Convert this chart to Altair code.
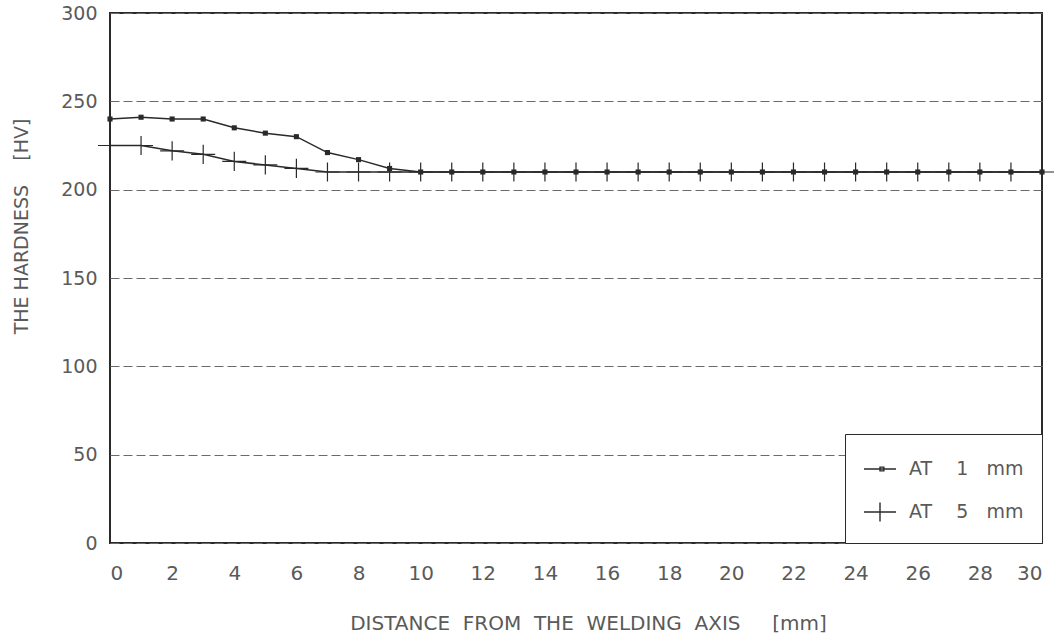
import altair as alt
import pandas as pd

# ---- data ----
distance = list(range(0, 31))
at_1mm = [240, 241, 240, 240, 235, 232, 230, 221, 217, 212,
          210, 210, 210, 210, 210, 210, 210, 210, 210, 210,
          210, 210, 210, 210, 210, 210, 210, 210, 210, 210, 210]
at_5mm = [225, 225, 222, 220, 216, 214, 212, 210, 210, 210,
          210, 210, 210, 210, 210, 210, 210, 210, 210, 210,
          210, 210, 210, 210, 210, 210, 210, 210, 210, 210, 210]
series_names = ["AT 1 mm", "AT 5 mm"]
x_ticks = list(range(0, 31, 2))
y_ticks = [0, 50, 100, 150, 200, 250, 300]

rows = []
for name, vals in zip(series_names, [at_1mm, at_5mm]):
    for d, v in zip(distance, vals):
        rows.append({"x": d, "value": v, "series": name})
df = pd.DataFrame(rows)

FONT = "DejaVu Sans"
TXT = "#5a5a5a"
INK = "#2a2a2a"
NB = "\u00a0"

CROSS = "M-1,0L1,0M0,-0.8L0,0.8"
LEG_LINE_SQ = "M-1,0L1,0M0.0,-0.12L0.24,-0.12L0.24,0.12L0.0,0.12Z"
LEG_CROSS = "M-1,0L1,0M0,-0.6L0,0.6"

x_title = (NB * 2).join(["DISTANCE", "FROM", "THE", "WELDING", "AXIS"]) + NB * 5 + "[mm]"
y_title = "THE" + NB + "HARDNESS" + NB * 4 + "[HV]"

x_enc = alt.X(
    "x:Q",
    scale=alt.Scale(domain=[0, 30], nice=False, zero=False),
    axis=alt.Axis(
        values=x_ticks, grid=False, ticks=False, domain=False,
        labelPadding=20, labelFontSize=20, labelFont=FONT, labelColor=TXT,
        title=x_title,
        titleFont=FONT, titleFontSize=20, titleFontWeight="normal", titleColor=TXT,
        titleY=80, titleBaseline="middle", titleX=478,
    ),
)
y_enc = alt.Y(
    "value:Q",
    scale=alt.Scale(domain=[0, 300], nice=False),
    axis=alt.Axis(
        values=y_ticks, grid=True, gridDash=[9, 4], gridColor="#6a6a6a", gridWidth=1,
        ticks=False, domain=False,
        labelPadding=13, labelFontSize=19, labelFont=FONT, labelColor=TXT,
        title=y_title,
        titleFont=FONT, titleFontSize=19, titleFontWeight="normal", titleColor=TXT,
        titleAngle=270, titleX=-89, titleY=213, titleAlign="center", titleBaseline="middle",
    ),
)

base = alt.Chart(df)

lines = base.mark_line(color=INK, strokeWidth=1.5, clip=False).encode(
    x=x_enc, y=y_enc, detail="series:N"
)

squares = base.transform_filter(alt.datum.series == "AT 1 mm").mark_point(
    shape="square", filled=True, size=26, color=INK, opacity=1, clip=False
).encode(x=x_enc, y=y_enc)

crosses = base.transform_filter(alt.datum.series == "AT 5 mm").mark_point(
    shape=CROSS, filled=False, size=576, color=INK, strokeWidth=1.2, opacity=1, clip=False
).encode(x=x_enc, y=y_enc)

legend_layer = base.transform_filter("false").mark_point(
    filled=False, color=INK, opacity=1, strokeWidth=1.4
).encode(
    x=x_enc, y=y_enc,
    shape=alt.Shape(
        "series:N",
        scale=alt.Scale(domain=series_names, range=[LEG_LINE_SQ, LEG_CROSS]),
        legend=alt.Legend(
            title=None, orient="bottom-right", offset=0,
            strokeColor=INK, fillColor="white", padding=18, rowPadding=16,
            symbolSize=1024, symbolStrokeColor=INK, symbolFillColor=INK,
            symbolStrokeWidth=1.4, symbolOpacity=1,
            labelOffset=12, labelFont=FONT, labelFontSize=19, labelColor=TXT,
            labelExpr="replace(replace(datum.label, 'AT ', 'AT\u00a0\u00a0\u00a0\u00a0'), ' mm', '\u00a0\u00a0\u00a0mm')",
            cornerRadius=0,
        ),
    ),
)

chart = alt.layer(lines, squares, crosses, legend_layer).properties(
    width=932, height=530,
    padding={"left": 110, "top": 13, "right": 19, "bottom": 97},
    autosize=alt.AutoSizeParams(type="none"),
    background="white",
).configure_view(stroke=INK, strokeWidth=2)

chart.save("out.html", embed_options={"renderer": "svg", "actions": False})
